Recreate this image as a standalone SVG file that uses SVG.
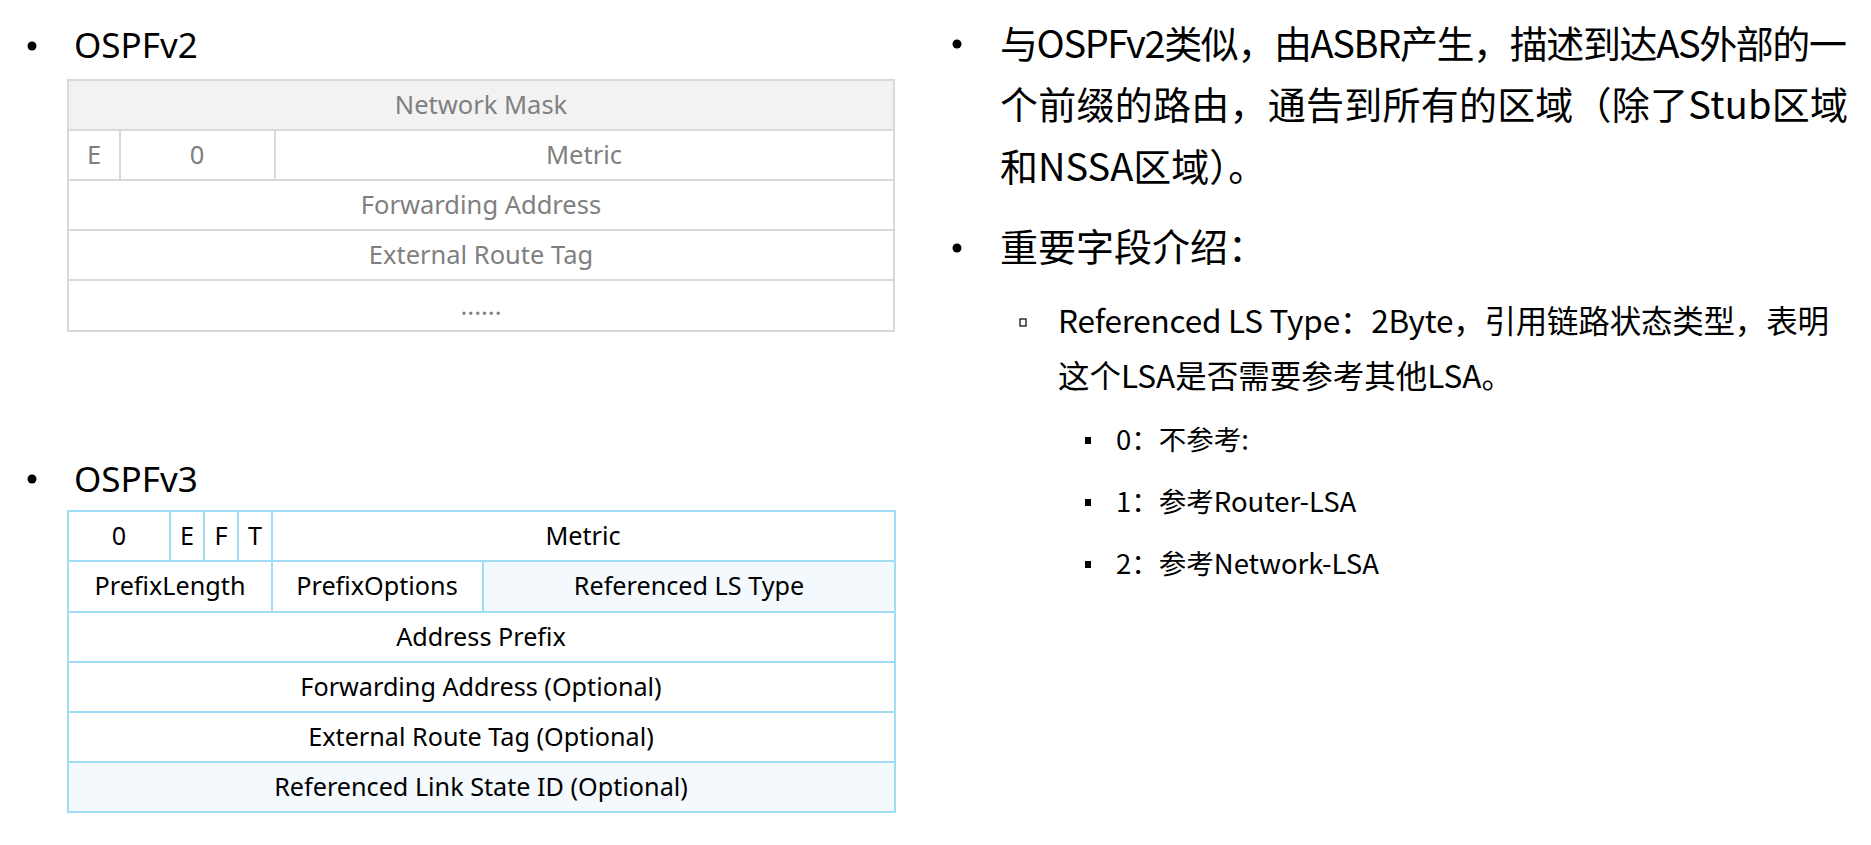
<svg xmlns="http://www.w3.org/2000/svg" width="1871" height="845" viewBox="0 0 1871 845">
<style>
.bg{fill:#ffffff}
.title{font-family:"Noto Sans","Noto Sans CJK SC",sans-serif;font-size:35px;fill:#000}
.c2{fill:#ffffff;stroke:#d9d9d9;stroke-width:2}
.c2h{fill:#f2f2f2;stroke:#d9d9d9;stroke-width:2}
.t2{font-family:"Noto Sans","Noto Sans CJK SC",sans-serif;font-size:25.5px;fill:#808080;text-anchor:middle}
.c3{fill:#ffffff;stroke:#a0dcf5;stroke-width:2}
.c3h{fill:#f3f9fd;stroke:#a0dcf5;stroke-width:2}
.t3{font-family:"Noto Sans","Noto Sans CJK SC",sans-serif;font-size:25.2px;fill:#000;text-anchor:middle}
.b1{font-family:"Noto Sans CJK SC",sans-serif;font-size:38px;fill:#000}
.b2{font-family:"Noto Sans CJK SC",sans-serif;font-size:31.5px;fill:#000}
.b3{font-family:"Noto Sans CJK SC",sans-serif;font-size:27.5px;fill:#000}
.dot{fill:#000}
</style>
<rect class="bg" x="0" y="0" width="1871" height="845"/>

<g id="title-v2">
<circle class="dot" cx="32" cy="46" r="4.5"/>
<text class="title" x="74" y="58">OSPFv2</text>
</g>

<g id="table-v2">
<g id="v2-network-mask"><rect class="c2h" x="68" y="80" width="826" height="50"/><text class="t2" x="481" y="114">Network Mask</text></g>
<g id="v2-e"><rect class="c2" x="68" y="130" width="52" height="50"/><text class="t2" x="94" y="164">E</text></g>
<g id="v2-zero"><rect class="c2" x="120" y="130" width="155" height="50"/><text class="t2" x="197" y="164">0</text></g>
<g id="v2-metric"><rect class="c2" x="275" y="130" width="619" height="50"/><text class="t2" x="584" y="164">Metric</text></g>
<g id="v2-forwarding"><rect class="c2" x="68" y="180" width="826" height="50"/><text class="t2" x="481" y="214">Forwarding Address</text></g>
<g id="v2-tag"><rect class="c2" x="68" y="230" width="826" height="50"/><text class="t2" x="481" y="264">External Route Tag</text></g>
<g id="v2-more"><rect class="c2" x="68" y="280" width="826" height="51"/><text class="t2" x="481" y="315">......</text></g>
</g>

<g id="title-v3">
<circle class="dot" cx="32" cy="479" r="4.5"/>
<text class="title" x="74" y="492">OSPFv3</text>
</g>

<g id="table-v3">
<g id="v3-zero"><rect class="c3" x="68" y="511" width="102" height="50"/><text class="t3" x="119" y="545">0</text></g>
<g id="v3-e"><rect class="c3" x="170" y="511" width="34" height="50"/><text class="t3" x="187" y="545">E</text></g>
<g id="v3-f"><rect class="c3" x="204" y="511" width="34" height="50"/><text class="t3" x="221" y="545">F</text></g>
<g id="v3-t"><rect class="c3" x="238" y="511" width="34" height="50"/><text class="t3" x="255" y="545">T</text></g>
<g id="v3-metric"><rect class="c3" x="272" y="511" width="623" height="50"/><text class="t3" x="583" y="545">Metric</text></g>
<g id="v3-prefixlength"><rect class="c3" x="68" y="561" width="204" height="51"/><text class="t3" x="170" y="595">PrefixLength</text></g>
<g id="v3-prefixoptions"><rect class="c3" x="272" y="561" width="211" height="51"/><text class="t3" x="377" y="595">PrefixOptions</text></g>
<g id="v3-reflstype"><rect class="c3h" x="483" y="561" width="412" height="51"/><text class="t3" x="689" y="595">Referenced LS Type</text></g>
<g id="v3-address-prefix"><rect class="c3" x="68" y="612" width="827" height="50"/><text class="t3" x="481" y="646">Address Prefix</text></g>
<g id="v3-forwarding"><rect class="c3" x="68" y="662" width="827" height="50"/><text class="t3" x="481" y="696">Forwarding Address (Optional)</text></g>
<g id="v3-tag"><rect class="c3" x="68" y="712" width="827" height="50"/><text class="t3" x="481" y="746">External Route Tag (Optional)</text></g>
<g id="v3-reflsid"><rect class="c3h" x="68" y="762" width="827" height="50"/><text class="t3" x="481" y="796">Referenced Link State ID (Optional)</text></g>
</g>

<g id="desc">
<circle class="dot" cx="957" cy="44" r="4.5"/>
<text class="b1" x="1000" y="58" textLength="847" lengthAdjust="spacing">与OSPFv2类似，由ASBR产生，描述到达AS外部的一</text>
<text class="b1" x="1000" y="119" textLength="848" lengthAdjust="spacing">个前缀的路由，通告到所有的区域（除了Stub区域</text>
<text class="b1" x="1000" y="181">和NSSA区域）。</text>
</g>

<g id="fields">
<circle class="dot" cx="957" cy="248" r="4.5"/>
<text class="b1" x="1000" y="261">重要字段介绍：</text>
<rect x="1020" y="319" width="6" height="7" fill="none" stroke="#000" stroke-width="1.2"/>
<text class="b2" x="1058" y="333" textLength="771" lengthAdjust="spacing">Referenced LS Type：2Byte，引用链路状态类型，表明</text>
<text class="b2" x="1058" y="388">这个LSA是否需要参考其他LSA。</text>
<rect class="dot" x="1085" y="437" width="6" height="7"/>
<text class="b3" x="1116" y="450">0：不参考:</text>
<rect class="dot" x="1085" y="499" width="6" height="7"/>
<text class="b3" x="1116" y="512">1：参考Router-LSA</text>
<rect class="dot" x="1085" y="561" width="6" height="7"/>
<text class="b3" x="1116" y="574">2：参考Network-LSA</text>
</g>
</svg>
